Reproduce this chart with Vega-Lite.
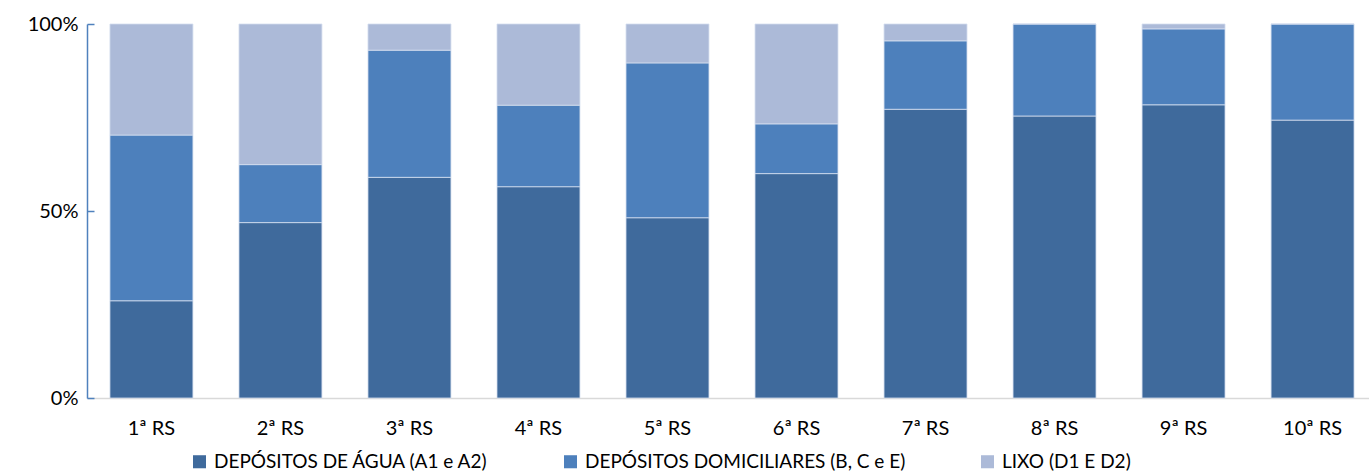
{
  "$schema": "https://vega.github.io/schema/vega-lite/v6.json",
  "width": 1290,
  "height": 374,
  "padding": {"left": 87, "top": 24, "right": 0, "bottom": 77},
  "autosize": {"type": "none"},
  "background": "white",
  "config": {
    "view": {"stroke": null},
    "font": "Lato",
    "axis": {"labelFont": "Lato", "labelFontSize": 20, "labelColor": "#000000"},
    "legend": {"labelFont": "Lato", "labelFontSize": 19, "labelColor": "#000000"}
  },
  "data": {
    "values": [
      {"rs": "1ª RS", "tipo": "DEPÓSITOS DE ÁGUA (A1 e A2)", "v": 26.0},
      {"rs": "1ª RS", "tipo": "DEPÓSITOS DOMICILIARES (B, C e E)", "v": 44.3},
      {"rs": "1ª RS", "tipo": "LIXO (D1 E D2)", "v": 29.7},
      {"rs": "2ª RS", "tipo": "DEPÓSITOS DE ÁGUA (A1 e A2)", "v": 46.9},
      {"rs": "2ª RS", "tipo": "DEPÓSITOS DOMICILIARES (B, C e E)", "v": 15.5},
      {"rs": "2ª RS", "tipo": "LIXO (D1 E D2)", "v": 37.6},
      {"rs": "3ª RS", "tipo": "DEPÓSITOS DE ÁGUA (A1 e A2)", "v": 59.0},
      {"rs": "3ª RS", "tipo": "DEPÓSITOS DOMICILIARES (B, C e E)", "v": 34.0},
      {"rs": "3ª RS", "tipo": "LIXO (D1 E D2)", "v": 7.0},
      {"rs": "4ª RS", "tipo": "DEPÓSITOS DE ÁGUA (A1 e A2)", "v": 56.5},
      {"rs": "4ª RS", "tipo": "DEPÓSITOS DOMICILIARES (B, C e E)", "v": 21.8},
      {"rs": "4ª RS", "tipo": "LIXO (D1 E D2)", "v": 21.7},
      {"rs": "5ª RS", "tipo": "DEPÓSITOS DE ÁGUA (A1 e A2)", "v": 48.2},
      {"rs": "5ª RS", "tipo": "DEPÓSITOS DOMICILIARES (B, C e E)", "v": 41.4},
      {"rs": "5ª RS", "tipo": "LIXO (D1 E D2)", "v": 10.4},
      {"rs": "6ª RS", "tipo": "DEPÓSITOS DE ÁGUA (A1 e A2)", "v": 60.0},
      {"rs": "6ª RS", "tipo": "DEPÓSITOS DOMICILIARES (B, C e E)", "v": 13.3},
      {"rs": "6ª RS", "tipo": "LIXO (D1 E D2)", "v": 26.7},
      {"rs": "7ª RS", "tipo": "DEPÓSITOS DE ÁGUA (A1 e A2)", "v": 77.2},
      {"rs": "7ª RS", "tipo": "DEPÓSITOS DOMICILIARES (B, C e E)", "v": 18.3},
      {"rs": "7ª RS", "tipo": "LIXO (D1 E D2)", "v": 4.5},
      {"rs": "8ª RS", "tipo": "DEPÓSITOS DE ÁGUA (A1 e A2)", "v": 75.4},
      {"rs": "8ª RS", "tipo": "DEPÓSITOS DOMICILIARES (B, C e E)", "v": 24.6},
      {"rs": "8ª RS", "tipo": "LIXO (D1 E D2)", "v": 0},
      {"rs": "9ª RS", "tipo": "DEPÓSITOS DE ÁGUA (A1 e A2)", "v": 78.4},
      {"rs": "9ª RS", "tipo": "DEPÓSITOS DOMICILIARES (B, C e E)", "v": 20.3},
      {"rs": "9ª RS", "tipo": "LIXO (D1 E D2)", "v": 1.3},
      {"rs": "10ª RS", "tipo": "DEPÓSITOS DE ÁGUA (A1 e A2)", "v": 74.3},
      {"rs": "10ª RS", "tipo": "DEPÓSITOS DOMICILIARES (B, C e E)", "v": 25.7},
      {"rs": "10ª RS", "tipo": "LIXO (D1 E D2)", "v": 0}
    ]
  },
  "mark": {"type": "bar", "stroke": "#d3ddef", "strokeWidth": 0.8},
  "encoding": {
    "x": {
      "field": "rs",
      "type": "nominal",
      "sort": null,
      "scale": {"paddingInner": 0.357, "paddingOuter": 0.178},
      "axis": {
        "title": null,
        "labelAngle": 0,
        "ticks": false,
        "domainColor": "#d9d9d9",
        "domainWidth": 1.5,
        "labelPadding": 20
      }
    },
    "y": {
      "field": "v",
      "type": "quantitative",
      "stack": "normalize",
      "scale": {"domain": [0, 1], "nice": false},
      "axis": {
        "title": null,
        "values": [0, 0.5, 1],
        "format": ".0%",
        "grid": false,
        "domainColor": "#4f81bd",
        "domainWidth": 1.5,
        "tickColor": "#4f81bd",
        "tickSize": -7,
        "tickWidth": 1.5,
        "labelPadding": 16
      }
    },
    "color": {
      "field": "tipo",
      "type": "nominal",
      "scale": {
        "domain": ["DEPÓSITOS DE ÁGUA (A1 e A2)", "DEPÓSITOS DOMICILIARES (B, C e E)", "LIXO (D1 E D2)"],
        "range": ["#3f6a9c", "#4d80bc", "#acbad8"]
      },
      "legend": {
        "title": null,
        "orient": "none",
        "direction": "horizontal",
        "legendX": 103,
        "legendY": 428,
        "symbolType": "square",
        "symbolSize": 170,
        "symbolStrokeWidth": 0,
        "labelOffset": 5,
        "labelLimit": 600,
        "columnPadding": 72
      }
    },
    "order": {"field": "tipo", "sort": "ascending"}
  }
}
